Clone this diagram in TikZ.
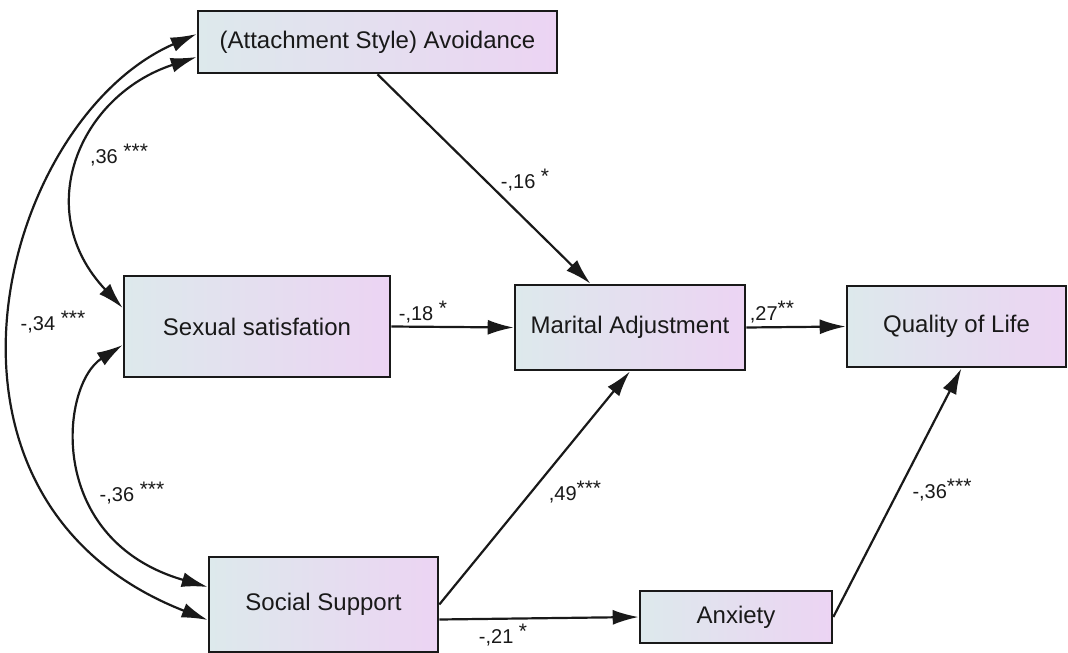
\documentclass[tikz,border=0pt]{standalone}
\usepackage{fontspec}
\setmainfont{Liberation Sans}
\usetikzlibrary{arrows.meta,calc}
\definecolor{boxL}{RGB}{221,233,236}
\definecolor{boxR}{RGB}{236,212,243}
\definecolor{ink}{RGB}{25,25,25}
\newcommand\sigstar[1]{\raisebox{0.22em}{\fontsize{21}{21}\selectfont #1}}
\begin{document}
\begin{tikzpicture}[x=1pt,y=-1pt,
  box/.style={draw=ink, line width=2.6pt, left color=boxL, right color=boxR,
    inner sep=0pt, text=ink, font=\fontsize{24}{28}\selectfont},
  arr/.style={line width=2.2pt, draw=ink, -{Latex[length=26pt,width=15pt]}},
  dbl/.style={line width=2.2pt, draw=ink,
    {Latex[length=26pt,width=15pt]}-{Latex[length=26pt,width=15pt]}},
  lbl/.style={text=ink, font=\fontsize{20}{22}\selectfont, inner sep=1pt}]
\useasboundingbox (0,0) rectangle (1068,653);

% boxes
\node[box, minimum width=359pt, minimum height=62pt] (avoid) at (377.5,42) {(Attachment Style) Avoidance};
\node[box, minimum width=266pt, minimum height=101pt] (sexual) at (257,326.5) {Sexual satisfation};
\node[box, minimum width=230pt, minimum height=85pt] (marital) at (630,327.5) {Marital Adjustment};
\node[box, minimum width=219pt, minimum height=81pt] (quality) at (956.5,326.5) {Quality of Life};
\node[box, minimum width=229pt, minimum height=95pt] (social) at (323.5,604.5) {Social Support};
\node[box, minimum width=192pt, minimum height=52pt] (anxiety) at (736,617) {Anxiety};

% directed paths
\draw[arr] (avoid.south) -- ($(marital.north west)!0.33!(marital.north east)$);
\draw[arr] (sexual.east) -- (marital.west);
\draw[arr] (marital.east) -- (quality.west);
\draw[arr] (social.east) -- (marital.south);
\draw[arr] ($(social.east)+(0,15)$) -- (anxiety.west);
\draw[arr] (anxiety.east) -- ($(quality.south)+(5,0)$);

% covariances
\draw[dbl] ($(avoid.west)+(0,15)$) .. controls (80,95) and (30,210) .. ($(sexual.west)+(0,-18.5)$);
\draw[dbl] ($(avoid.west)+(0,-8)$) .. controls (0,120) and (-100,500) .. ($(social.west)+(0,15.5)$);
\draw[dbl] ($(sexual.west)+(0,18.5)$) .. controls (60,385) and (45,540) .. ($(social.west)+(0,-17.5)$);

% labels
\node[lbl] (l16) at (525,180) {-,16 \sigstar{*}};
\node[lbl] (l18) at (423,312) {-,18 \sigstar{*}};
\node[lbl] (l27) at (772,312) {,27\sigstar{**}};
\node[lbl] (l49) at (575,492) {,49\sigstar{***}};
\node[lbl] (l21) at (503,635) {-,21 \sigstar{*}};
\node[lbl] (l36b) at (942,490) {-,36\sigstar{***}};
\node[lbl] (l36a) at (119,155) {,36 \sigstar{***}};
\node[lbl] (l34) at (53,322) {-,34 \sigstar{***}};
\node[lbl] (l36c) at (132,493) {-,36 \sigstar{***}};
\end{tikzpicture}
\end{document}
